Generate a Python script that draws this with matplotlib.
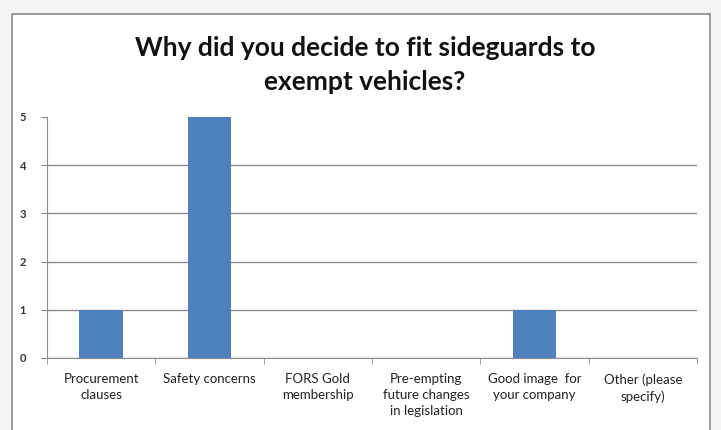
import matplotlib
matplotlib.use("Agg")
import matplotlib.pyplot as plt
from matplotlib.patches import Rectangle

categories = ["Procurement\nclauses", "Safety concerns", "FORS Gold\nmembership",
              "Pre-empting\nfuture changes\nin legislation", "Good image  for\nyour company",
              "Other (please\nspecify)"]
counts = [1, 5, 0, 0, 1, 0]
yticks = [0, 1, 2, 3, 4, 5]

plt.rcParams['font.family'] = ['Lato', 'DejaVu Sans']

fig = plt.figure(figsize=(7.21, 4.30), dpi=100)
fig.patch.set_facecolor('#f4f4f4')

# chart frame
frame = Rectangle((12 / 721, -0.05), 698 / 721, 1 - 14 / 430 + 0.05,
                  transform=fig.transFigure, facecolor='white',
                  edgecolor='#8c8c8c', linewidth=1.2, zorder=-1)
fig.patches.append(frame)

ax = fig.add_axes([47 / 721, 1 - 358 / 430, 650 / 721, 241 / 430])
ax.set_facecolor('none')
ax.set_zorder(2)

x = list(range(len(categories)))
ax.bar(x, counts, width=0.4, color='#4f81bd', zorder=3)

ax.set_xlim(-0.5, len(categories) - 0.5)
ax.set_ylim(0, 5)
ax.set_yticks(yticks)
ax.set_yticklabels([str(v) for v in yticks], fontsize=8, color='#333333', fontweight='bold')
ax.yaxis.grid(True, color='#8c8c8c', linewidth=1)
ax.get_ygridlines()[-1].set_visible(False)
ax.set_axisbelow(True)

ax.set_xticks(x)
ax.set_xticklabels(categories, fontsize=9.5, color='#222222', linespacing=1.4)
ax.tick_params(axis='x', length=0, pad=11)
ax.set_xticks([i - 0.5 for i in range(len(categories) + 1)], minor=True)
ax.tick_params(axis='x', which='minor', length=4, color='#8c8c8c')
ax.tick_params(axis='y', length=4, color='#8c8c8c', pad=11)

for s in ['top', 'right']:
    ax.spines[s].set_visible(False)
ax.spines['left'].set_color('#8c8c8c')
ax.spines['bottom'].set_color('#8c8c8c')

fig.text(365 / 721, 1 - 65 / 430, "Why did you decide to fit sideguards to\nexempt vehicles?",
         ha='center', va='center', fontsize=19, fontweight='bold', color='#111111',
         linespacing=1.5, zorder=3)

fig.savefig("out.png", dpi=100, facecolor=fig.get_facecolor())
